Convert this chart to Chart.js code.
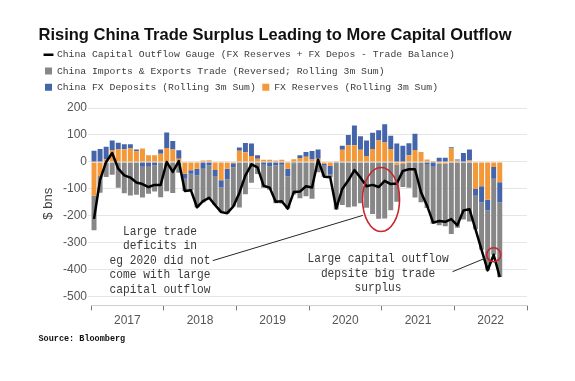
<!DOCTYPE html>
<html>
<head>
<meta charset="utf-8">
<script src="https://cdn.jsdelivr.net/npm/chart.js@4.4.1/dist/chart.umd.min.js"></script>
<style>
html,body{margin:0;padding:0;background:#ffffff;}
#wrap{width:575px;height:381px;}
</style>
</head>
<body>
<div id="wrap"><canvas id="c" width="575" height="381"></canvas></div>
<script>
// ---------- DATA ----------
const years = ['2017','2018','2019','2020','2021','2022'];
const months = [
 '2017-01','2017-02','2017-03','2017-04','2017-05','2017-06','2017-07','2017-08','2017-09','2017-10','2017-11','2017-12',
 '2018-01','2018-02','2018-03','2018-04','2018-05','2018-06','2018-07','2018-08','2018-09','2018-10','2018-11','2018-12',
 '2019-01','2019-02','2019-03','2019-04','2019-05','2019-06','2019-07','2019-08','2019-09','2019-10','2019-11','2019-12',
 '2020-01','2020-02','2020-03','2020-04','2020-05','2020-06','2020-07','2020-08','2020-09','2020-10','2020-11','2020-12',
 '2021-01','2021-02','2021-03','2021-04','2021-05','2021-06','2021-07','2021-08','2021-09','2021-10','2021-11','2021-12',
 '2022-01','2022-02','2022-03','2022-04','2022-05','2022-06','2022-07','2022-08','2022-09','2022-10','2022-11','2022-12'
];
// FX Reserves (Rolling 3m Sum), $ bn
const fxReserves = [
 -125,-52,10,44,47,47,50,40,50,25,25,30,
 52,46,12,-44,-31,-25,5,6,-30,-68,-25,-5,
 42,36,22,12,8,8,5,8,-25,10,15,19,
 9,12,-8,-15,3,45,62,62,45,22,48,80,
 72,48,-10,-8,25,44,37,9,4,-6,-6,50,
 5,2,5,-100,-90,-140,-19,-75,null,null,null,null
];
// China FX Deposits (Rolling 3m Sum), $ bn
const fxDeposits = [
 42,48,46,36,24,19,16,6,-18,-15,-12,16,
 57,32,31,-18,-13,-25,-25,-12,-22,-27,-40,-15,
 12,34,46,13,-10,-16,-12,-10,-28,-5,10,18,
 32,34,-6,-30,-3,15,38,73,50,58,60,38,
 68,49,68,60,44,61,0,-8,-18,16,16,5,
 4,31,41,-25,-60,-40,-43,-75,null,null,null,null
];
// China Imports & Exports Trade (Reversed; Rolling 3m Sum), $ bn
const tradeReversed = [
 -128,-62,-56,-47,-96,-116,-124,-122,-114,-103,-98,-131,
 -109,-115,-40,-46,-61,-118,-125,-127,-108,-91,-125,-145,
 -169,-120,-77,-45,-86,-87,-141,-144,-120,-116,-135,-127,
 -136,-38,-41,-12,-173,-160,-168,-165,-153,-170,-193,-211,
 -210,-179,-138,-85,-96,-132,-149,-163,-211,-229,-232,-267,
 -244,-213,-221,-125,-176,-222,-282,-277,null,null,null,null
];
// China Capital Outflow Gauge, $ bn
const outflowGauge = [
 -211,-66,0,33,-25,-50,-58,-76,-82,-93,-85,-85,
 0,-37,3,-108,-105,-168,-145,-133,-160,-186,-190,-165,
 -115,-50,-9,-20,-88,-95,-148,-146,-173,-111,-110,-90,
 -95,8,-55,-57,-173,-100,-68,-30,-58,-90,-85,-93,
 -70,-82,-80,-33,-27,-27,-112,-162,-225,-219,-222,-212,
 -235,-180,-175,-250,-326,-402,-344,-427,null,null,null,null
];
const yTicks = [200,100,0,-100,-200,-300,-400,-500];
const legendOrder = [0,3,2,1];

// annotation texts, anchored in data units (category index, $ bn)
const noteLeft = {x: 10.9, y: -257, lines: ['Large trade','deficits in','eg 2020 did not','come with large','capital outflow']};
const noteRight = {x: 46.9, y: -358, lines: ['Large capital outflow','depsite big trade','surplus']};
const connectors = [[19.6,-366,44.4,-198],[59.2,-407,64.5,-358]];
const bigCircle = {x: 47.4, y: -139};

// ---------- PLUGIN: annotations ----------
const notesPlugin = {
  id: 'notes',
  afterDatasetsDraw(chart) {
    const {ctx, scales} = chart;
    const X = v => scales.x.getPixelForValue(v);
    const Y = v => scales.y.getPixelForValue(v);
    ctx.save();
    ctx.strokeStyle = '#262626';
    ctx.lineWidth = 1;
    connectors.forEach(c => {
      ctx.beginPath();
      ctx.moveTo(X(c[0]), Y(c[1]));
      ctx.lineTo(X(c[2]), Y(c[3]));
      ctx.stroke();
    });
    ctx.strokeStyle = '#c8262c';
    ctx.lineWidth = 1.6;
    ctx.beginPath();
    ctx.ellipse(X(bigCircle.x), Y(bigCircle.y), 18.5, 32, 0, 0, Math.PI * 2);
    ctx.stroke();
    ctx.beginPath();
    ctx.arc(X(66), Y(outflowGauge[66]), 7, 0, Math.PI * 2);
    ctx.stroke();
    ctx.fillStyle = '#3a3a3a';
    ctx.font = '13.5px "Liberation Mono", "DejaVu Sans Mono", monospace';
    ctx.textAlign = 'center';
    ctx.textBaseline = 'middle';
    [noteLeft, noteRight].forEach(n => {
      n.lines.forEach((t, k) => {
        ctx.save();
        ctx.translate(X(n.x), Y(n.y) + k * 14.5);
        ctx.scale(0.83, 1);
        ctx.fillText(t, 0, 0);
        ctx.restore();
      });
    });
    ctx.restore();
  }
};

// ---------- CHART ----------
new Chart(document.getElementById('c'), {
  type: 'bar',
  data: {
    labels: months,
    datasets: [
      {
        type: 'line',
        label: 'China Capital Outflow Gauge (FX Reserves + FX Depos - Trade Balance)',
        data: outflowGauge,
        borderColor: '#000000',
        backgroundColor: '#000000',
        borderWidth: 2.5,
        pointRadius: 0,
        pointStyle: 'line',
        borderJoinStyle: 'round',
        tension: 0,
        fill: false,
        stack: 'gauge'
      },
      {
        label: 'FX Reserves (Rolling 3m Sum)',
        data: fxReserves,
        backgroundColor: '#f3993a',
        borderWidth: 0,
        pointStyle: 'rect',
        barPercentage: 0.82,
        categoryPercentage: 1,
        stack: 'flows'
      },
      {
        label: 'China FX Deposits (Rolling 3m Sum)',
        data: fxDeposits,
        backgroundColor: '#4565ab',
        borderWidth: 0,
        pointStyle: 'rect',
        barPercentage: 0.82,
        categoryPercentage: 1,
        stack: 'flows'
      },
      {
        label: 'China Imports & Exports Trade (Reversed; Rolling 3m Sum)',
        data: tradeReversed,
        backgroundColor: '#878787',
        borderWidth: 0,
        pointStyle: 'rect',
        barPercentage: 0.82,
        categoryPercentage: 1,
        stack: 'flows'
      }
    ]
  },
  options: {
    responsive: false,
    animation: false,
    devicePixelRatio: 1,
    layout: {padding: {left: 38.5, right: 48, top: 0, bottom: 37.4}},
    plugins: {
      title: {
        display: true,
        text: 'Rising China Trade Surplus Leading to More Capital Outflow',
        align: 'start',
        color: '#111111',
        font: {family: '"Liberation Sans", Arial, sans-serif', size: 16.5, weight: 'bold', lineHeight: 1.0},
        padding: {top: 26.85, bottom: 0}
      },
      subtitle: {
        display: true,
        text: 'Source: Bloomberg',
        position: 'bottom',
        align: 'start',
        color: '#111111',
        font: {family: '"Liberation Mono", monospace', size: 8.5, weight: 'bold'},
        padding: {top: 3, bottom: 0}
      },
      legend: {
        display: true,
        position: 'top',
        align: 'start',
        labels: {
          usePointStyle: true,
          boxWidth: 7,
          boxHeight: 7,
          padding: 6.5,
          color: '#3c3c3c',
          font: {family: '"Liberation Mono", monospace', size: 9.75},
          sort: (a, b) => legendOrder.indexOf(a.datasetIndex) - legendOrder.indexOf(b.datasetIndex)
        }
      },
      tooltip: {enabled: false}
    },
    scales: {
      x: {
        stacked: true,
        offset: true,
        grid: {
          offset: true,
          drawOnChartArea: false,
          drawTicks: true,
          tickLength: 5,
          lineWidth: 1,
          color: c => (c.index === undefined || c.index % 12 === 0) ? '#777777' : 'rgba(0,0,0,0)'
        },
        border: {display: true, color: '#cfcfcf', width: 1},
        ticks: {
          autoSkip: false,
          maxRotation: 0,
          minRotation: 0,
          padding: 2.8,
          labelOffset: -3.03,
          color: '#555555',
          font: {family: '"Liberation Sans", Arial, sans-serif', size: 12},
          callback: (v, i) => (i % 12 === 6 ? years[Math.floor(i / 12)] : '')
        }
      },
      y: {
        stacked: true,
        min: -532,
        max: 222,
        afterBuildTicks: s => { s.ticks = yTicks.map(v => ({value: v})); },
        afterFit: s => { s.width = 52.5; },
        grid: {color: '#e6e6e6', lineWidth: 1, tickLength: 3, drawTicks: true},
        border: {display: false},
        ticks: {
          padding: 1,
          color: '#555555',
          font: {family: '"Liberation Sans", Arial, sans-serif', size: 12}
        },
        title: {
          display: true,
          text: '$ bns',
          color: '#444444',
          font: {family: '"Liberation Sans", Arial, sans-serif', size: 13},
          padding: {top: 2, bottom: 0}
        }
      }
    }
  },
  plugins: [notesPlugin]
});
</script>
</body>
</html>
